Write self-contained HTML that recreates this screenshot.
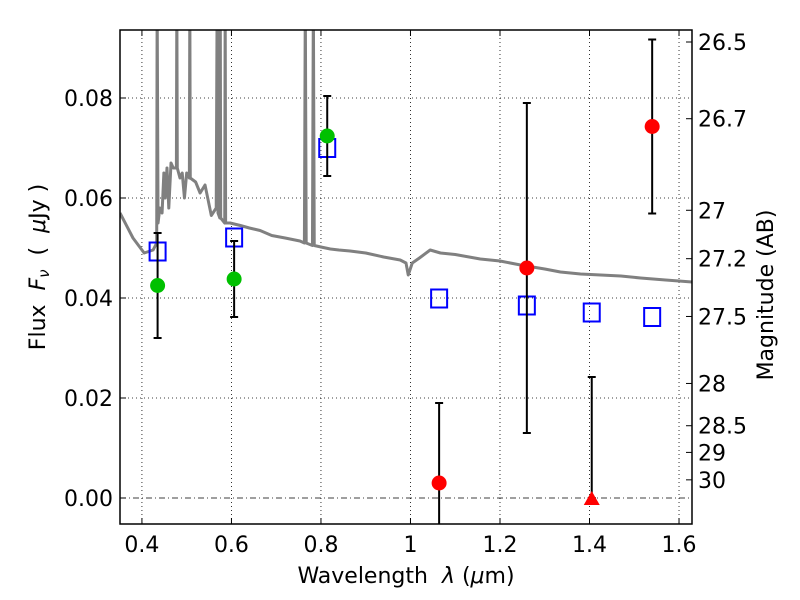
<!DOCTYPE html>
<html><head><meta charset="utf-8"><style>
body{margin:0;background:#fff}
svg{display:block;font-family:"DejaVu Sans","Liberation Sans",sans-serif}
text{white-space:pre}
</style></head><body>
<svg id="chart" width="800" height="600"></svg>
<script>
const xTicks=[0.4,0.6,0.8,1.0,1.2,1.4,1.6];
const xTickLabels=["0.4","0.6","0.8","1","1.2","1.4","1.6"];
const yTicks=[0,0.02,0.04,0.06,0.08];
const yTickLabels=["0.00","0.02","0.04","0.06","0.08"];
const magTicks=[26.5,26.7,27,27.2,27.5,28,28.5,29,30];
const magLabels=["26.5","26.7","27","27.2","27.5","28","28.5","29","30"];
const greenWl=[0.435,0.606,0.814];
const greenFlux=[0.0425,0.0438,0.0724];
const greenErr=[0.0105,0.0076,0.008];
const redWl=[1.064,1.26,1.54];
const redFlux=[0.003,0.046,0.0743];
const redErr=[0.016,0.033,0.0174];
const limitWl=[1.405];
const limitFlux=[0.0];
const limitTop=[0.0242];
const modelWl=[0.435,0.606,0.814,1.064,1.26,1.405,1.54];
const modelFlux=[0.0493,0.0521,0.0700,0.0399,0.0385,0.0371,0.0362];
const specWl=[0.351,0.38,0.405,0.425,0.433,0.434,0.436,0.44,0.445,0.449,0.452,0.456,0.46,0.465,0.47,0.474,0.477,0.478,0.479,0.485,0.49,0.495,0.5,0.506,0.507,0.508,0.52,0.53,0.541,0.555,0.566,0.568,0.570,0.574,0.575,0.576,0.585,0.586,0.587,0.597,0.62,0.64,0.664,0.69,0.72,0.753,0.763,0.765,0.767,0.781,0.783,0.785,0.8,0.821,0.84,0.865,0.9,0.94,0.977,0.99,0.995,1.004,1.02,1.044,1.067,1.1,1.156,1.2,1.246,1.3,1.335,1.38,1.425,1.47,1.514,1.57,1.630];
const specFlux=[0.057,0.052,0.049,0.0496,0.051,0.1,0.055,0.058,0.057,0.065,0.060,0.066,0.058,0.067,0.066,0.066,0.066,0.1,0.066,0.064,0.065,0.06,0.065,0.064,0.1,0.064,0.0632,0.061,0.0626,0.0565,0.058,0.1,0.057,0.056,0.1,0.056,0.055,0.1,0.055,0.055,0.0545,0.054,0.0535,0.0525,0.052,0.0514,0.051,0.1,0.051,0.0505,0.1,0.0505,0.0502,0.0498,0.0496,0.0494,0.049,0.0482,0.0476,0.047,0.0446,0.047,0.048,0.0496,0.049,0.0487,0.0478,0.0474,0.0466,0.0458,0.0452,0.0448,0.0446,0.0444,0.044,0.0436,0.0432];

const L=120,R=692,T=30,B=524;
const x0=0.351,x1=1.629,y0=-0.0052,y1=0.0936;
const sx=v=>L+(v-x0)/(x1-x0)*(R-L);
const sy=v=>B-(v-y0)/(y1-y0)*(B-T);
const magToFlux=m=>Math.pow(10,(23.9-m)/2.5);
const svg=document.getElementById('chart');
const NS="http://www.w3.org/2000/svg";
function mk(tag,attrs,parent){const e=document.createElementNS(NS,tag);for(const k in attrs)e.setAttribute(k,attrs[k]);(parent||svg).appendChild(e);return e;}

const clip=mk('clipPath',{id:'pc'});mk('rect',{x:L,y:T,width:R-L,height:B-T},clip);
xTicks.forEach((t,i)=>{
 const g=mk('line',{x1:sx(t),x2:sx(t),y1:T,y2:B,stroke:'#000','stroke-width':0.8,'stroke-dasharray':'1,3'});
 
 
 mk('line',{x1:sx(t),x2:sx(t),y1:B,y2:B-6,stroke:'#000'});
 mk('line',{x1:sx(t),x2:sx(t),y1:T,y2:T+6,stroke:'#000'});
 const tx=mk('text',{x:sx(t),y:B+28,'text-anchor':'middle','font-size':22});tx.textContent=xTickLabels[i];
 
 
});
yTicks.forEach((t,i)=>{
 const g=mk('line',{x1:L,x2:R,y1:sy(t),y2:sy(t),stroke:'#000','stroke-width':0.8,'stroke-dasharray':t===0?'6,3,1,3':'1,3'});
 
 
 mk('line',{x1:L,x2:L+6,y1:sy(t),y2:sy(t),stroke:'#000'});
 const tx=mk('text',{x:L-7,y:sy(t)+8,'text-anchor':'end','font-size':22});tx.textContent=yTickLabels[i];
 
 
});
magTicks.forEach((m,i)=>{
 const y=sy(magToFlux(m));
 mk('line',{x1:R,x2:R-6,y1:y,y2:y,stroke:'#000'});
 const tx=mk('text',{x:R+6,y:y+8,'font-size':22});tx.textContent=magLabels[i];
 
 
});
const pg=mk('g',{'clip-path':'url(#pc)'});
const sp=mk('polyline',{points:specWl.map((w,i)=>sx(w)+','+sy(specFlux[i])).join(' '),fill:'none',stroke:'#808080','stroke-width':3,'stroke-linejoin':'round'},pg);


function ebar(w,lo,hi){
 const g=mk('g',{stroke:'#000','stroke-width':2},pg);
 mk('line',{x1:sx(w),x2:sx(w),y1:sy(lo),y2:sy(hi)},g);
 mk('line',{x1:sx(w)-4,x2:sx(w)+4,y1:sy(lo),y2:sy(lo)},g);
 mk('line',{x1:sx(w)-4,x2:sx(w)+4,y1:sy(hi),y2:sy(hi)},g);
 
 
}
modelWl.forEach((w,i)=>{
 const r=mk('rect',{x:sx(w)-8,y:sy(modelFlux[i])-9,width:16,height:18,fill:'none',stroke:'#0000ff','stroke-width':2},pg);
 
 
});
greenWl.forEach((w,i)=>{
 ebar(w,greenFlux[i]-greenErr[i],greenFlux[i]+greenErr[i]);
 const c=mk('circle',{cx:sx(w),cy:sy(greenFlux[i]),r:7.5,fill:'#00c000'},pg);
 
 
});
redWl.forEach((w,i)=>{
 ebar(w,redFlux[i]-redErr[i],redFlux[i]+redErr[i]);
 const c=mk('circle',{cx:sx(w),cy:sy(redFlux[i]),r:7.5,fill:'#ff0000'},pg);
 
 
});
limitWl.forEach((w,i)=>{
 ebar(w,limitFlux[i],limitTop[i]);
 const x=sx(w),y=sy(limitFlux[i]);
 const p=mk('polygon',{points:`${x},${y-7} ${x-8},${y+7} ${x+8},${y+7}`,fill:'#ff0000'},pg);
 
 
});
const fr=mk('rect',{x:L,y:T,width:R-L,height:B-T,fill:'none',stroke:'#000','stroke-width':1.5});


const xl=mk('text',{x:406,y:583,'text-anchor':'middle','font-size':22});
xl.innerHTML='Wavelength  <tspan font-style="italic">λ</tspan> (<tspan font-style="italic">μ</tspan>m)';


const yl=mk('text',{x:0,y:0,'text-anchor':'middle','font-size':22,transform:'translate(45,267) rotate(-90)'});
yl.innerHTML='Flux  <tspan font-style="italic">F</tspan><tspan font-style="italic" font-size="15" dy="4">ν</tspan><tspan dy="-4">  (  </tspan><tspan font-style="italic">μ</tspan>Jy )';


const rl=mk('text',{x:0,y:0,'text-anchor':'middle','font-size':22,transform:'translate(773,295) rotate(-90)'});
rl.textContent='Magnitude (AB)';


</script>
</body></html>
